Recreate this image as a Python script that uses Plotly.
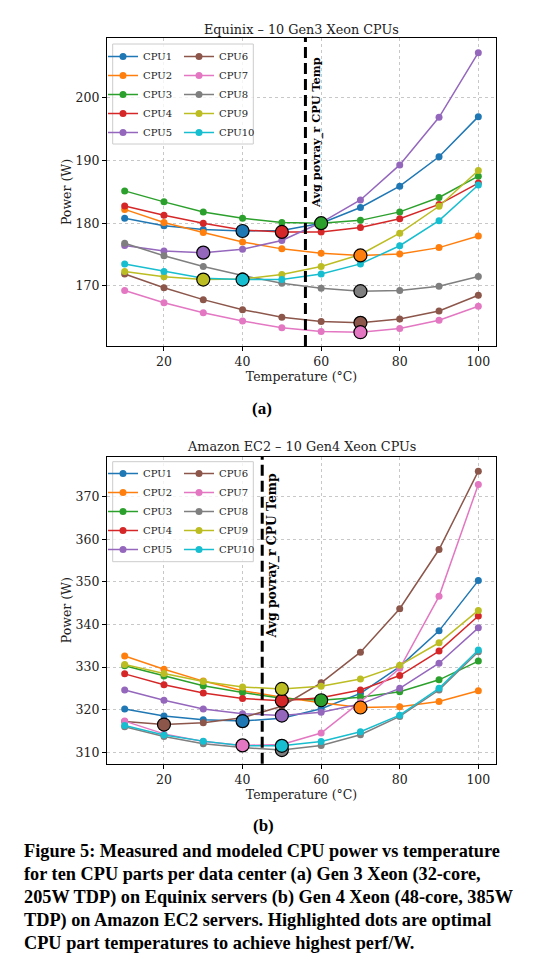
import plotly.graph_objects as go

# ---------------- data ----------------
TEMPS = [10, 20, 30, 40, 50, 60, 70, 80, 90, 100]
CPU_NAMES = ["CPU1", "CPU2", "CPU3", "CPU4", "CPU5", "CPU6", "CPU7", "CPU8", "CPU9", "CPU10"]
X_TICKS = [20, 40, 60, 80, 100]

# Equinix – Gen3 Xeon (power in W)
EQX_CPU1 = [180.8, 179.6, 179.0, 178.75, 178.85, 180.0, 182.5, 185.9, 190.6, 197.0]
EQX_CPU2 = [182.2, 180.1, 178.5, 177.0, 175.9, 175.2, 174.85, 175.1, 176.1, 177.95]
EQX_CPU3 = [185.15, 183.4, 181.8, 180.8, 180.1, 180.0, 180.45, 181.8, 184.1, 187.5]
EQX_CPU4 = [182.75, 181.25, 180.0, 178.9, 178.6, 178.6, 179.3, 180.7, 183.0, 186.4]
EQX_CPU5 = [176.45, 175.55, 175.3, 175.85, 177.25, 180.1, 183.7, 189.3, 196.9, 207.2]
EQX_CPU6 = [171.9, 169.7, 167.8, 166.2, 165.0, 164.3, 164.1, 164.7, 166.0, 168.5]
EQX_CPU7 = [169.25, 167.3, 165.7, 164.4, 163.3, 162.7, 162.6, 163.2, 164.5, 166.75]
EQX_CPU8 = [176.8, 174.8, 173.1, 171.65, 170.4, 169.6, 169.15, 169.25, 169.95, 171.5]
EQX_CPU9 = [172.3, 171.45, 171.0, 171.1, 171.8, 173.1, 175.0, 178.4, 182.7, 188.4]
EQX_CPU10 = [173.5, 172.3, 171.2, 171.0, 171.0, 171.9, 173.5, 176.4, 180.4, 186.1]
EQX_OPT_TEMP = [40, 70, 60, 50, 30, 70, 70, 70, 30, 40]
EQX_AVG_TEMP = 56
EQX_Y_TICKS = [170, 180, 190, 200]

# Amazon EC2 – Gen4 Xeon (power in W)
EC2_CPU1 = [320.15, 318.5, 317.6, 317.3, 318.0, 320.2, 323.8, 330.1, 338.5, 350.3]
EC2_CPU2 = [332.6, 329.5, 326.7, 324.45, 322.9, 321.6, 320.5, 320.7, 321.9, 324.45]
EC2_CPU3 = [330.3, 327.9, 325.6, 324.0, 322.7, 322.2, 322.9, 324.2, 327.0, 331.4]
EC2_CPU4 = [328.4, 325.85, 323.9, 322.6, 322.1, 322.8, 324.6, 328.0, 333.75, 342.0]
EC2_CPU5 = [324.6, 322.2, 320.15, 319.05, 318.6, 319.4, 321.3, 325.0, 330.9, 339.2]
EC2_CPU6 = [317.2, 316.5, 316.9, 318.1, 320.8, 326.3, 333.5, 343.7, 357.6, 376.0]
EC2_CPU7 = [317.3, 314.3, 312.5, 311.6, 311.8, 314.5, 321.8, 329.7, 346.6, 372.9]
EC2_CPU8 = [316.0, 313.7, 312.0, 311.1, 310.5, 311.6, 314.1, 318.4, 324.6, 333.6]
EC2_CPU9 = [330.6, 328.5, 326.6, 325.3, 324.85, 325.5, 327.2, 330.4, 335.7, 343.3]
EC2_CPU10 = [316.25, 314.05, 312.6, 311.5, 311.5, 312.5, 314.8, 318.7, 325.0, 334.0]
EC2_OPT_TEMP = [40, 70, 60, 50, 50, 20, 40, 50, 50, 50]
EC2_AVG_TEMP = 45
EC2_Y_TICKS = [310, 320, 330, 340, 350, 360, 370]

CAPTION_LINES = [
    "Figure 5: Measured and modeled CPU power vs temperature",
    "for ten CPU parts per data center (a) Gen 3 Xeon (32-core,",
    "205W TDP) on Equinix servers (b) Gen 4 Xeon (48-core, 385W",
    "TDP) on Amazon EC2 servers. Highlighted dots are optimal",
    "CPU part temperatures to achieve highest perf/W.",
]

COLORS = ["#1f77b4", "#ff7f0e", "#2ca02c", "#d62728", "#9467bd",
          "#8c564b", "#e377c2", "#7f7f7f", "#bcbd22", "#17becf"]

EQX_SERIES = [EQX_CPU1, EQX_CPU2, EQX_CPU3, EQX_CPU4, EQX_CPU5,
              EQX_CPU6, EQX_CPU7, EQX_CPU8, EQX_CPU9, EQX_CPU10]
EC2_SERIES = [EC2_CPU1, EC2_CPU2, EC2_CPU3, EC2_CPU4, EC2_CPU5,
              EC2_CPU6, EC2_CPU7, EC2_CPU8, EC2_CPU9, EC2_CPU10]

# ---------------- layout helpers ----------------
# the page body has an 8px margin, so the figure is 8px smaller on each axis
OFF = 8
W, H = 558 - OFF, 976 - OFF
def px(x):
    return (x - OFF) / W
def py(y):
    return 1 - (y - OFF) / H

FONT = "DejaVu Serif"
CAP_FONT = "Liberation Serif"

fig = go.Figure()

panels = [
    ("x", "y", EQX_SERIES, EQX_OPT_TEMP, "legend", "legend2"),
    ("x2", "y2", EC2_SERIES, EC2_OPT_TEMP, "legend3", "legend4"),
]
for xa, ya, series, opt, lg1, lg2 in panels:
    for i, (name, vals) in enumerate(zip(CPU_NAMES, series)):
        fig.add_trace(go.Scatter(
            x=TEMPS, y=vals, mode="lines+markers", name=name,
            line=dict(color=COLORS[i], width=1.5),
            marker=dict(size=7, color=COLORS[i]),
            xaxis=xa, yaxis=ya, legend=lg1 if i < 5 else lg2,
        ))
    hy = [series[i][TEMPS.index(t)] for i, t in enumerate(opt)]
    fig.add_trace(go.Scatter(
        x=opt, y=hy, mode="markers", showlegend=False,
        marker=dict(size=13, color=COLORS, line=dict(color="black", width=1.2)),
        xaxis=xa, yaxis=ya,
    ))

axis_common = dict(
    showline=True, linecolor="black", linewidth=1.2, mirror=True,
    ticks="outside", ticklen=4, tickwidth=1, tickcolor="black",
    showgrid=True, gridcolor="#c8c8c8", griddash="dot", gridwidth=0.8,
    zeroline=False, automargin=False,
    tickfont=dict(family=FONT, size=12.5, color="#222"),
)
XDOM = [px(107), px(496)]
fig.update_layout(
    xaxis=dict(domain=XDOM, anchor="y", range=[5.5, 104.5], tickvals=X_TICKS,
               title=dict(text="Temperature (°C)", standoff=2,
                          font=dict(family=FONT, size=12.5, color="#222")), **axis_common),
    yaxis=dict(domain=[py(346), py(38)], anchor="x", range=[160.4, 209.55], tickvals=EQX_Y_TICKS,
               title=dict(text="Power (W)", standoff=1,
                          font=dict(family=FONT, size=12.5, color="#222")), **axis_common),
    xaxis2=dict(domain=XDOM, anchor="y2", range=[5.5, 104.5], tickvals=X_TICKS,
                title=dict(text="Temperature (°C)", standoff=2,
                           font=dict(family=FONT, size=12.5, color="#222")), **axis_common),
    yaxis2=dict(domain=[py(763.7), py(456.7)], anchor="x2", range=[307.3, 379.4], tickvals=EC2_Y_TICKS,
                title=dict(text="Power (W)", standoff=1,
                           font=dict(family=FONT, size=12.5, color="#222")), **axis_common),
)

leg_common = dict(font=dict(family=FONT, size=10, color="#222"), bgcolor="rgba(0,0,0,0)",
                  borderwidth=0, xanchor="left", yanchor="top", tracegroupgap=0)
fig.update_layout(
    legend=dict(x=px(103), y=py(42), **leg_common),
    legend2=dict(x=px(179), y=py(42), **leg_common),
    legend3=dict(x=px(103), y=py(459), **leg_common),
    legend4=dict(x=px(179), y=py(459), **leg_common),
)

shapes = []
for xr, yr, avg in [("x", "y", EQX_AVG_TEMP), ("x2", "y2", EC2_AVG_TEMP)]:
    shapes.append(dict(type="line", xref=xr, yref=yr + " domain", x0=avg, x1=avg, y0=0, y1=1,
                       line=dict(color="black", width=3, dash="11px,5px")))
# legend frames
for top, bot in [(44, 144), (461.7, 561.7)]:
    shapes.append(dict(type="rect", xref="paper", yref="paper",
                       x0=px(112.7), x1=px(253.3), y0=py(bot), y1=py(top),
                       fillcolor="rgba(255,255,255,0.8)", line=dict(color="#cccccc", width=1),
                       layer="above"))
fig.update_layout(shapes=shapes)

ann = []
def paper_text(text, x, y, size, family=FONT, xanchor="center", color="#222"):
    return dict(text=text, x=px(x), y=py(y), xref="paper", yref="paper",
                xanchor=xanchor, yanchor="middle", showarrow=False,
                font=dict(family=family, size=size, color=color))

ann.append(paper_text("Equinix – 10 Gen3 Xeon CPUs", 301.5, 29, 12.8))
ann.append(paper_text("Amazon EC2 – 10 Gen4 Xeon CPUs", 301.5, 446, 12.8))
ann.append(dict(text="<b>Avg povray_r CPU Temp</b>", x=EQX_AVG_TEMP, xref="x", xshift=11,
                y=1 - 17 / 308, yref="y domain", yanchor="top", xanchor="center", textangle=-90,
                showarrow=False, font=dict(family=FONT, size=11.3, color="black")))
ann.append(dict(text="<b>Avg povray_r CPU Temp</b>", x=EC2_AVG_TEMP, xref="x2", xshift=10,
                y=1 - 15 / 307, yref="y2 domain", yanchor="top", xanchor="center", textangle=-90,
                showarrow=False, font=dict(family=FONT, size=12.4, color="black")))
ann.append(paper_text("<b>(a)</b>", 262, 409, 17, CAP_FONT, color="black"))
ann.append(paper_text("<b>(b)</b>", 263, 825, 17, CAP_FONT, color="black"))
for i, line in enumerate(CAPTION_LINES):
    ann.append(paper_text("<b>" + line + "</b>", 22, 851 + i * 23.1, 18.3, CAP_FONT,
                          xanchor="left", color="black"))
fig.update_layout(annotations=ann)

fig.update_layout(
    width=W, height=H, margin=dict(l=0, r=0, t=0, b=0),
    paper_bgcolor="white", plot_bgcolor="white",
    showlegend=True, hovermode=False,
)

fig.write_html("out.html")
